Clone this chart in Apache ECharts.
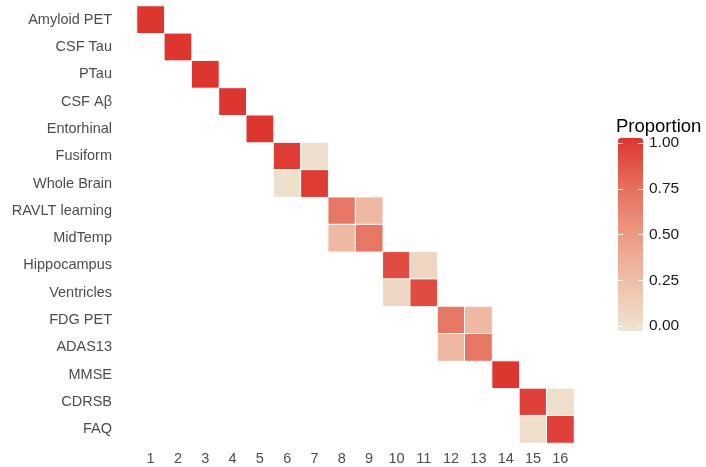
<!DOCTYPE html>
<html>
<head>
<meta charset="utf-8">
<script src="https://cdn.jsdelivr.net/npm/echarts@6/dist/echarts.min.js"></script>
<style>
  html, body { margin: 0; padding: 0; background: #fff; }
  #chart { width: 706px; height: 467px; }
</style>
</head>
<body>
<div id="chart"></div>
<script>
// Biomarkers (rows, top to bottom) and event positions (columns)
const biomarkers = [
  'Amyloid PET', 'CSF Tau', 'PTau', 'CSF Aβ', 'Entorhinal', 'Fusiform',
  'Whole Brain', 'RAVLT learning', 'MidTemp', 'Hippocampus', 'Ventricles',
  'FDG PET', 'ADAS13', 'MMSE', 'CDRSB', 'FAQ'
];
const positions = ['1', '2', '3', '4', '5', '6', '7', '8', '9', '10', '11', '12', '13', '14', '15', '16'];

// Non-zero proportions: [biomarker index, position index, proportion]
const proportions = [
  [0, 0, 1.00],
  [1, 1, 1.00],
  [2, 2, 1.00],
  [3, 3, 1.00],
  [4, 4, 1.00],
  [5, 5, 0.97], [5, 6, 0.03],
  [6, 5, 0.03], [6, 6, 0.97],
  [7, 7, 0.70], [7, 8, 0.30],
  [8, 7, 0.30], [8, 8, 0.70],
  [9, 9, 0.90], [9, 10, 0.10],
  [10, 9, 0.10], [10, 10, 0.90],
  [11, 11, 0.70], [11, 12, 0.30],
  [12, 11, 0.30], [12, 12, 0.70],
  [13, 13, 1.00],
  [14, 14, 0.95], [14, 15, 0.05],
  [15, 14, 0.05], [15, 15, 0.95]
];

// Legend tick values
const legendTicks = [0, 0.25, 0.5, 0.75, 1];

const font = '"Liberation Sans", Arial, Helvetica, sans-serif';
const chart = echarts.init(document.getElementById('chart'), null, { renderer: 'canvas' });

chart.setOption({
  animation: false,
  backgroundColor: '#ffffff',
  textStyle: { fontFamily: font },
  title: {
    text: 'Proportion',
    left: 616,
    top: 117,
    padding: 0,
    textStyle: { fontFamily: font, fontSize: 18.5, fontWeight: 'normal', color: '#000' }
  },
  grid: [
    { left: 137, top: 6, width: 437, height: 437, containLabel: false },
    { left: 618, top: 143, width: 25, height: 183, containLabel: false }
  ],
  xAxis: [
    {
      type: 'category',
      gridIndex: 0,
      data: positions,
      position: 'bottom',
      axisLine: { show: false },
      axisTick: { show: false },
      splitLine: { show: false },
      axisLabel: { color: '#4d4d4d', fontSize: 14.5, fontFamily: font, margin: 8 }
    },
    {
      type: 'value',
      gridIndex: 1,
      show: false,
      min: 0,
      max: 1
    }
  ],
  yAxis: [
    {
      type: 'category',
      gridIndex: 0,
      data: biomarkers,
      inverse: true,
      axisLine: { show: false },
      axisTick: { show: false },
      splitLine: { show: false },
      axisLabel: { color: '#4d4d4d', fontSize: 14.5, fontFamily: font, margin: 25 }
    },
    {
      type: 'value',
      gridIndex: 1,
      position: 'left',
      min: 0,
      max: 1,
      interval: 0.25,
      z: 10,
      axisLine: { show: false },
      splitLine: { show: false },
      axisTick: { show: true, inside: true, length: 5, lineStyle: { color: '#ffffff', width: 1 } },
      axisLabel: { show: false }
    },
    {
      type: 'value',
      gridIndex: 1,
      position: 'right',
      min: 0,
      max: 1,
      interval: 0.25,
      z: 10,
      axisLine: { show: false },
      splitLine: { show: false },
      axisTick: { show: true, inside: true, length: 5, lineStyle: { color: '#ffffff', width: 1 } },
      axisLabel: {
        color: '#1a1a1a',
        fontSize: 15.5,
        fontFamily: font,
        margin: 6,
        customValues: legendTicks,
        formatter: v => v.toFixed(2)
      }
    }
  ],
  visualMap: {
    type: 'continuous',
    seriesIndex: 0,
    min: 0,
    max: 1,
    calculable: false,
    showLabel: false,
    text: null,
    left: 618,
    top: 138,
    padding: 0,
    itemWidth: 25,
    itemHeight: 193,
    inRange: {
      color: ['#ede5d3', '#f0c0aa', '#ec9a84', '#e56e5c', '#dd3530']
    }
  },
  series: [
    {
      type: 'heatmap',
      xAxisIndex: 0,
      yAxisIndex: 0,
      data: proportions.map(([r, c, v]) => [c, r, v]),
      itemStyle: { borderColor: '#ffffff', borderWidth: 1 },
      emphasis: { disabled: true }
    }
  ]
});
</script>
</body>
</html>
